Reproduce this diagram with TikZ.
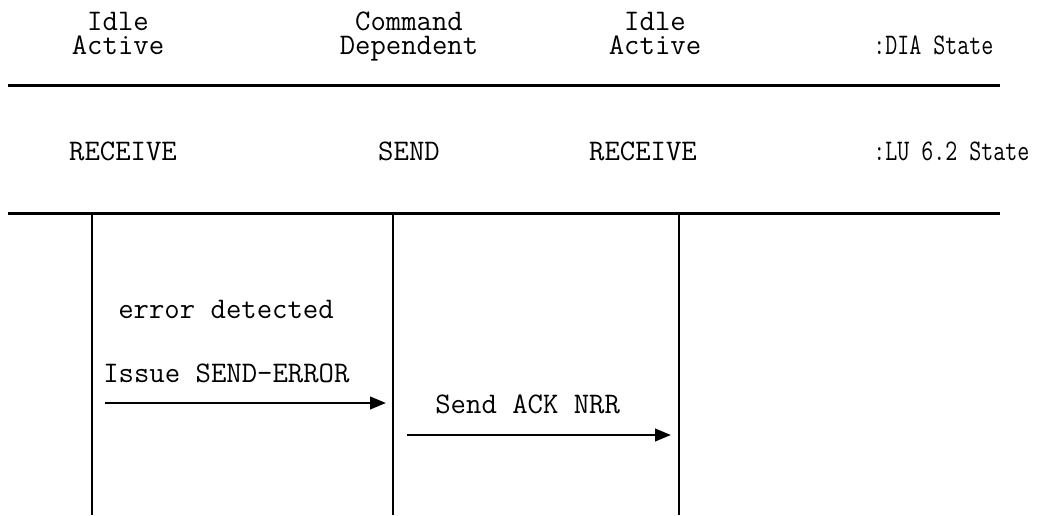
\documentclass[tikz,border=0pt]{standalone}
\usepackage{tikz}
\usetikzlibrary{positioning, arrows.meta}

\newcommand{\tagtext}[1]{\scalebox{0.78}[1]{#1}}

\begin{document}
\begin{tikzpicture}[
    x=0.02cm, y=-0.02cm,
    every node/.style={font=\ttfamily\fontsize{17}{20}\selectfont, inner sep=0pt},
    state/.style={anchor=base},
    tag/.style={anchor=base west},
    rule/.style={line width=1.7pt},
    lifeline/.style={line width=1.1pt},
    msg/.style={line width=1.5pt, -{Triangle[length=9pt, width=7pt]}}
]
    \useasboundingbox (0,0) rectangle (1039,515);

    % DIA states (row 1)
    \node[state] (dia1a) at (118,30) {Idle};
    \node[state] (dia1b) at (118,54) {Active};
    \node[state] (dia2a) at (409,30) {Command};
    \node[state] (dia2b) at (409,54) {Dependent};
    \node[state] (dia3a) at (655,30) {Idle};
    \node[state] (dia3b) at (655,54) {Active};
    \node[tag] (diatag) at (873,54) {\tagtext{:DIA State}};

    % LU 6.2 states (row 2)
    \node[state] (lu1) at (123,160) {RECEIVE};
    \node[state] (lu2) at (409,160) {SEND};
    \node[state] (lu3) at (643,160) {RECEIVE};
    \node[tag] (lutag) at (873,160) {\tagtext{:LU 6.2 State}};

    % rules between the rows
    \coordinate (r1a) at (8,85);
    \coordinate (r1b) at (1000,85);
    \coordinate (r2a) at (8,213);
    \coordinate (r2b) at (1000,213);
    \draw[rule] (r1a) -- (r1b);
    \draw[rule] (r2a) -- (r2b);

    % lifelines
    \coordinate (p1) at (92,213);
    \coordinate (p2) at (393,213);
    \coordinate (p3) at (679,213);
    \foreach \p in {p1,p2,p3}
        \draw[lifeline] (\p) -- (\p |- 0,515);

    % messages
    \node[tag] (err) at (118,318) {error detected};
    \node[tag] (issue) at (103,382) {Issue SEND-ERROR};
    \node[tag] (ack) at (435,413) {Send ACK NRR};

    \coordinate (m1s) at (105,403);
    \coordinate (m1e) at (386,403);
    \coordinate (m2s) at (407,435);
    \coordinate (m2e) at (671,435);
    \draw[msg] (m1s) -- (m1e);
    \draw[msg] (m2s) -- (m2e);
\end{tikzpicture}
\end{document}
